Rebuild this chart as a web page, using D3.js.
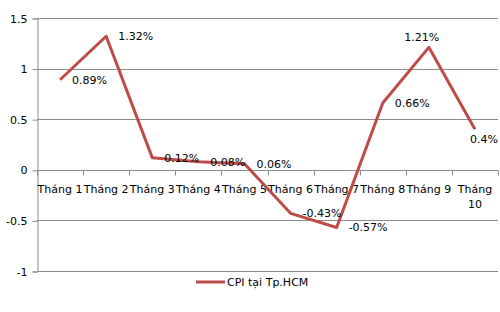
<!DOCTYPE html>
<html>
<head>
<meta charset="utf-8">
<script src="https://cdn.jsdelivr.net/npm/d3@7"></script>
<style>
  body { margin: 0; background: #fff; }
  svg { display: block; font-family: "DejaVu Sans", sans-serif; }
</style>
</head>
<body>
<svg id="chart" width="500" height="312"></svg>
<script>
const months = ["Tháng 1", "Tháng 2", "Tháng 3", "Tháng 4", "Tháng 5",
                "Tháng 6", "Tháng 7", "Tháng 8", "Tháng 9", "Tháng 10"];
const cpi = [0.89, 1.32, 0.12, 0.08, 0.06, -0.43, -0.57, 0.66, 1.21, 0.4];
const yTicks = [-1, -0.5, 0, 0.5, 1, 1.5];
const seriesName = "CPI tại Tp.HCM";

const WIDTH = 500;
const MARGIN_LEFT = 37;
const MARGIN_RIGHT = 2;
const TOP = 18;
const BOTTOM = 271;
const LINE_COLOR = '#be4b48';
const GRID_COLOR = '#8c8c8c';
const FONT_SIZE = 11;
// label of the September point sits above it in the original
const LABEL_ABOVE = new Set([8]);

const svg = d3.select('#chart');

const x = d3.scaleBand()
    .domain(months)
    .range([MARGIN_LEFT, WIDTH - MARGIN_RIGHT])
    .padding(0);

const y = d3.scaleLinear()
    .domain([-1, 1.5])
    .range([BOTTOM, TOP]);

// horizontal gridlines
svg.append('g')
    .selectAll('line')
    .data(yTicks)
    .join('line')
    .attr('x1', MARGIN_LEFT)
    .attr('x2', WIDTH - MARGIN_RIGHT)
    .attr('y1', d => Math.round(y(d)) + 0.5)
    .attr('y2', d => Math.round(y(d)) + 0.5)
    .attr('stroke', GRID_COLOR)
    .attr('stroke-width', 1);

// y axis
const yAxis = svg.append('g')
    .attr('transform', `translate(${MARGIN_LEFT + 0.5},0.5)`)
    .call(d3.axisLeft(y).tickValues(yTicks).tickSize(5).tickPadding(5)
        .tickFormat(d => String(d)));
yAxis.select('.domain').attr('stroke', GRID_COLOR);
yAxis.selectAll('.tick line').attr('stroke', GRID_COLOR);
yAxis.selectAll('.tick text')
    .attr('font-family', '"DejaVu Sans", sans-serif')
    .attr('font-size', FONT_SIZE)
    .attr('fill', '#000');

// x axis at zero, ticks on category boundaries
const zeroY = Math.round(y(0)) + 0.5;
const bounds = months.map(m => x(m)).concat([x.range()[1]]);
svg.append('g')
    .selectAll('line')
    .data(bounds)
    .join('line')
    .attr('x1', d => Math.round(d) + 0.5)
    .attr('x2', d => Math.round(d) + 0.5)
    .attr('y1', zeroY)
    .attr('y2', zeroY + 5)
    .attr('stroke', GRID_COLOR);

// category labels (wrap if wider than the band)
const catLabels = svg.append('g')
    .selectAll('text')
    .data(months)
    .join('text')
    .attr('x', d => x(d) + x.bandwidth() / 2)
    .attr('y', zeroY + 22)
    .attr('text-anchor', 'middle')
    .attr('font-size', FONT_SIZE)
    .attr('fill', '#000')
    .text(d => d);

catLabels.each(function (d) {
    const t = d3.select(this);
    if (this.getComputedTextLength() > x.bandwidth()) {
        const words = d.split(' ');
        t.text(null);
        words.forEach((w, i) => {
            t.append('tspan')
                .attr('x', x(d) + x.bandwidth() / 2)
                .attr('dy', i === 0 ? 0 : 15)
                .text(w);
        });
    }
});

// series line
const line = d3.line()
    .x((d, i) => x(months[i]) + x.bandwidth() / 2)
    .y(d => y(d));

svg.append('path')
    .datum(cpi)
    .attr('d', line)
    .attr('fill', 'none')
    .attr('stroke', LINE_COLOR)
    .attr('stroke-width', 3)
    .attr('stroke-linejoin', 'round');

// data labels, to the right of each point
const labels = svg.append('g')
    .selectAll('text')
    .data(cpi)
    .join('text')
    .attr('x', (d, i) => x(months[i]) + x.bandwidth() / 2 + 12)
    .attr('y', d => y(d) + 4)
    .attr('font-size', FONT_SIZE)
    .attr('fill', '#000')
    .text(d => d + '%');

labels.each(function (d, i) {
    const t = d3.select(this);
    const w = this.getComputedTextLength();
    const cx = x(months[i]) + x.bandwidth() / 2;
    if (LABEL_ABOVE.has(i)) {
        t.attr('x', cx - 7 - w / 2).attr('y', y(d) - 6);
    } else if (+t.attr('x') + w > WIDTH - 2) {
        t.attr('x', WIDTH - 2 - w).attr('y', y(d) + 14);
    }
});

// legend
const legend = svg.append('g')
    .attr('transform', 'translate(196,282)');
legend.append('line')
    .attr('x1', 0).attr('x2', 29)
    .attr('y1', 0).attr('y2', 0)
    .attr('stroke', LINE_COLOR)
    .attr('stroke-width', 3);
legend.append('text')
    .attr('x', 31)
    .attr('y', 4)
    .attr('font-size', FONT_SIZE)
    .attr('fill', '#000')
    .text(seriesName);
</script>
</body>
</html>
